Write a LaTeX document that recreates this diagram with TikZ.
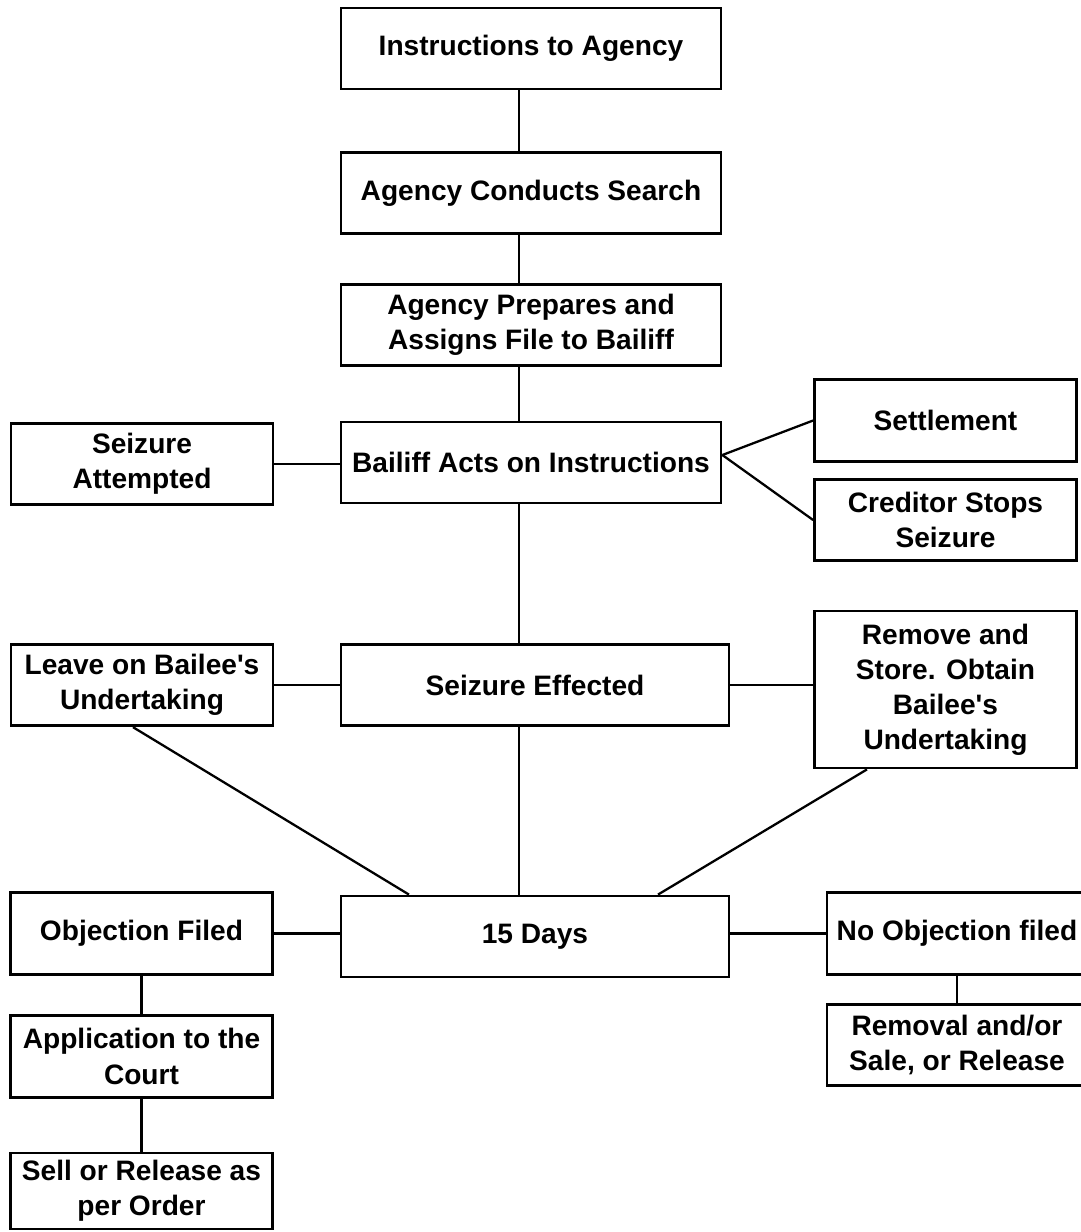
\documentclass[tikz,border=0pt]{standalone}
\usepackage{fontspec}
\setmainfont{Liberation Sans}
\usetikzlibrary{calc}

\begin{document}
\begin{tikzpicture}[x=0.02cm, y=-0.02cm,
		box/.style={draw, line width=1.6pt, align=center, inner sep=2pt, font=\bfseries\fontsize{16}{20}\selectfont},
		wide/.style={box, minimum width=7.6cm, minimum height=1.62cm},
		side/.style={box, minimum width=5.24cm, minimum height=1.63cm},
		link/.style={line width=1.3pt}]
			\useasboundingbox (0,0) rectangle (1081,1232);
			\node[wide] (inst) at (531,48.5) {Instructions to Agency};
			\node[wide] (search) at (531,193) {Agency Conducts Search};
			\node[wide] (prep) at (531,325) {Agency Prepares and\\Assigns File to Bailiff};
			\node[wide] (bailiff) at (531,462.5) {Bailiff Acts on Instructions};
			\node[side] (attempt) at (142,464) {Seizure\\Attempted};
			\node[side] (settle) at (945.5,420.5) {Settlement};
			\node[side] (stops) at (945.5,520) {Creditor Stops\\Seizure};
			\node[wide, minimum width=7.76cm] (effected) at (535,685) {Seizure Effected};
			\node[side] (leave) at (142,685) {Leave on Bailee\textquotesingle s\\Undertaking};
			\node[side, minimum height=3.14cm] (store) at (945.5,689.5) {Remove and\\Store. Obtain\\Bailee\textquotesingle s\\Undertaking};
			\node[wide, minimum width=7.76cm] (days) at (535,936.5) {15 Days};
			\node[side] (objection) at (141.5,933.5) {Objection Filed};
			\node[side, minimum width=5.2cm] (noobj) at (957,933.5) {No Objection filed};
			\node[side, minimum width=5.2cm] (removal) at (957,1045) {Removal and/or\\Sale, or Release};
			\node[side] (court) at (141.5,1056.5) {Application to the\\Court};
			\node[side, minimum height=1.52cm] (order) at (141.5,1191) {Sell or Release as\\per Order};
			\coordinate (spine) at (519,0);
			\foreach \a/\b in {inst/search, search/prep, prep/bailiff, bailiff/effected, effected/days}
				\draw[link] (\a.south -| spine) -- (\b.north -| spine);
			\draw[link] (attempt.east) -- (attempt.east -| bailiff.west);
			\draw[link] ([yshift=0.15cm]bailiff.east) -- (settle.west);
			\draw[link] ([yshift=0.15cm]bailiff.east) -- (stops.west);
			\draw[link] (leave.east) -- (effected.west);
			\draw[link] (effected.east) -- (effected.east -| store.west);
			\draw[link] ([xshift=-0.18cm]leave.south) -- ([xshift=-2.52cm]days.north);
			\draw[link] ([xshift=-1.57cm]store.south) -- ([xshift=2.46cm]days.north);
			\draw[link] (objection.east) -- (objection.east -| days.west);
			\draw[link] (days.east |- noobj.west) -- (noobj.west);
			\draw[link] (noobj.south) -- (removal.north);
			\draw[link] (objection.south) -- (court.north);
			\draw[link] (court.south) -- (order.north);
		\end{tikzpicture}
\end{document}
